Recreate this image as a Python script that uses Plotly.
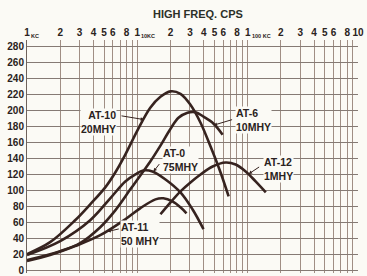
import math
import plotly.graph_objects as go

# ---- data (frequency in kHz, response value) ----
at10_khz = [1.0, 1.62, 2.73, 3.74, 5.12, 6.31, 7.78, 10.0, 13.1, 16.2, 20.0, 24.6, 30.3, 37.4, 46.1, 56.8, 67.2]
at10_val = [19.9, 34.8, 62.2, 82.1, 103.3, 121.9, 144.3, 174.2, 202.8, 216.5, 223.3, 220.2, 206.5, 184.1, 154.3, 121.9, 92.1]

at6_khz = [1.0, 2.0, 3.03, 4.61, 6.31, 8.64, 11.3, 13.1, 16.2, 20.0, 23.6, 28.5, 33.7, 39.8, 49.1, 59.3]
at6_val = [12.4, 23.6, 33.6, 53.5, 74.6, 100.8, 123.2, 135.6, 155.5, 176.6, 190.3, 196.6, 197.2, 191.6, 182.9, 169.2]

at0_khz = [1.0, 2.0, 3.74, 5.68, 7.78, 9.59, 11.3, 13.7, 18.0, 24.6, 31.6, 39.8]
at0_val = [18.7, 36.1, 62.2, 89.6, 110.7, 119.4, 124.4, 123.2, 113.2, 97.0, 75.9, 51.0]

at11_khz = [1.0, 1.62, 2.73, 4.61, 7.78, 10.6, 14.6, 17.2, 20.8, 24.6, 27.9]
at11_val = [11.2, 18.7, 29.9, 43.5, 63.4, 77.1, 88.3, 89.6, 85.8, 78.4, 70.9]

at12_khz = [16.2, 20.0, 24.6, 30.3, 37.4, 48.1, 63.1, 77.8, 95.9, 118.0, 146.0]
at12_val = [69.7, 84.6, 98.3, 109.5, 119.4, 129.4, 134.4, 131.9, 123.2, 110.7, 97.0]

y_ticks = list(range(0, 281, 20))
x_tick_khz = [1, 2, 3, 4, 5, 6, 7, 8, 9,
              10, 20, 30, 40, 50, 60, 70, 80, 90,
              100, 200, 300, 400, 500, 600, 700, 800, 900, 1000]
x_tick_text = ["1", "2", "3", "4", "5", "6", "", "8", "",
               "1", "2", "3", "4", "5", "6", "", "8", "",
               "1", "2", "3", "4", "5", "6", "", "8", "", "10"]
decade_khz = [1, 10, 100]
decade_sub = ["KC", "10KC", "100 KC"]

# labels: (text, x kHz, y value, xanchor, align)
labels = [
    ("AT-10<br>20MHY", 6.58, 185.0, "right", "right"),
    ("AT-6<br>10MHY", 76.2, 188.0, "left", "left"),
    ("AT-0<br>75MHY", 16.9, 138.0, "left", "left"),
    ("AT-11<br>50 MHY", 7.0, 45.0, "left", "left"),
    ("AT-12<br>1MHY", 137.0, 126.0, "left", "left"),
]
# pointers: tip (kHz, value), tail offset in px
pointers = [
    (11.5, 188.0, -24, -4),
    (49.1, 181.0, 20, -6),
    (14.0, 123.0, 7, -9),
    (5.34, 48.0, 13, -3),
    (102.0, 120.0, 12, -8),
]

bg = "#fbfaf5"
ink = "#36231f"
txt = "#2a2220"

fig = go.Figure()
for kh, vals in [(at11_khz, at11_val), (at0_khz, at0_val), (at6_khz, at6_val),
                 (at12_khz, at12_val), (at10_khz, at10_val)]:
    fig.add_trace(go.Scatter(
        x=[k * 1000 for k in kh], y=vals, mode="lines",
        line=dict(color=ink, width=2.6, shape="spline", smoothing=1.0),
        showlegend=False, hoverinfo="skip"))

ann = []
for t, xk, yv, xa, al in labels:
    ann.append(dict(text=t, x=math.log10(xk * 1000), y=yv, xref="x", yref="y",
                    xanchor=xa, yanchor="middle", align=al, showarrow=False,
                    bgcolor=bg, borderpad=0,
                    font=dict(family="Liberation Sans", size=10.5, color=txt, weight="bold")))
for xk, yv, axp, ayp in pointers:
    ann.append(dict(text="", x=math.log10(xk * 1000), y=yv, xref="x", yref="y",
                    ax=axp, ay=ayp, showarrow=True, arrowhead=2, arrowsize=0.7,
                    arrowwidth=1, arrowcolor=ink))
for dk, st in zip(decade_khz, decade_sub):
    ann.append(dict(text=st, x=math.log10(dk * 1000), y=1.018, xref="x", yref="paper",
                    xanchor="left", yanchor="middle", xshift=2, showarrow=False,
                    font=dict(family="Liberation Sans", size=5.5, color=txt, weight="bold")))
ann.append(dict(text="HIGH FREQ. CPS", x=0.517, y=1.113, xref="paper", yref="paper",
                xanchor="center", yanchor="middle", showarrow=False,
                font=dict(family="Liberation Sans", size=11, color="#2c3028", weight="bold")))

fig.update_layout(
    width=367, height=276,
    margin=dict(l=27, r=9, t=40, b=3),
    paper_bgcolor=bg, plot_bgcolor=bg,
    annotations=ann,
    xaxis=dict(type="log", range=[3, 6], side="top", automargin=False, tickangle=0,
               tickvals=[k * 1000 for k in x_tick_khz], ticktext=x_tick_text,
               ticklabeloverflow="allow", ticklabelstandoff=1,
               showgrid=True, gridcolor="#a08e84", gridwidth=1, ticks="",
               zeroline=False, showline=False,
               tickfont=dict(family="Liberation Sans", size=10, color=txt, weight="bold")),
    yaxis=dict(range=[-3.75, 287.5], tickvals=y_ticks, automargin=False,
               ticklabeloverflow="allow",
               showgrid=True, gridcolor="#857a74", gridwidth=1, ticks="",
               zeroline=False, showline=True, linecolor="#6e625c", linewidth=1,
               tickfont=dict(family="Liberation Sans", size=10, color=txt, weight="bold")),
)

fig.write_html("out.html", config={"displayModeBar": False},
               post_script="document.body.style.margin='0px';document.body.style.overflow='hidden';")
